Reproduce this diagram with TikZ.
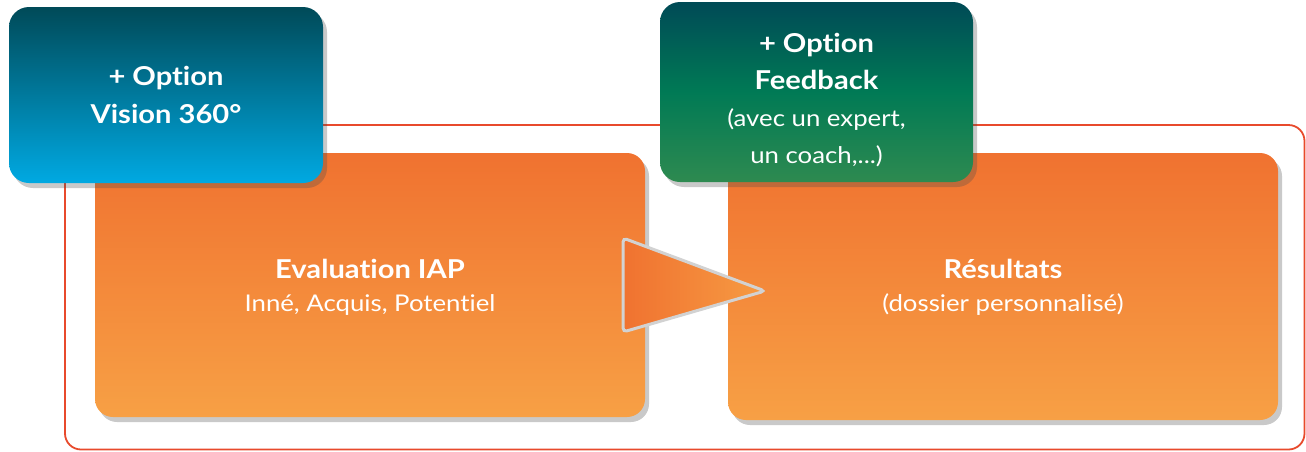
\documentclass[tikz,border=0pt]{standalone}
\usepackage{fontspec}
\setmainfont{Lato}[FakeStretch=1.12, Ligatures={NoCommon}]
\usetikzlibrary{shadows}
\definecolor{redline}{HTML}{E84A2C}
\definecolor{orTop}{HTML}{F07230}
\definecolor{orBot}{HTML}{F7A045}
\definecolor{blTop}{HTML}{004A58}
\definecolor{blBot}{HTML}{00A9E2}
\definecolor{grTop}{HTML}{004A56}
\definecolor{grMid}{HTML}{007A55}
\definecolor{grBot}{HTML}{2E8A50}
\definecolor{trBorder}{HTML}{D2D2D2}
\newcommand{\bigbold}{\bfseries\fontsize{26}{38}\selectfont}
\tikzset{
  boxshadow/.style={drop shadow={shadow xshift=4pt, shadow yshift=-5pt, opacity=0.3, fill=black!70}},
  orangebox/.style={rectangle, rounded corners=18pt, top color=orTop, bottom color=orBot, boxshadow, inner sep=0pt},
  optbox/.style={rectangle, rounded corners=20pt, boxshadow, inner sep=0pt},
  bluebox/.style={optbox, top color=blTop, bottom color=blBot},
  greenbox/.style={optbox, top color=grTop, bottom color=grBot, middle color=grMid},
  boxtext/.style={text=white, align=center, inner sep=0pt},
}
\begin{document}
\begin{tikzpicture}[x=1pt,y=-1pt]
\useasboundingbox (0,0) rectangle (1306,451);
% outer red frame
\draw[redline, line width=1.8pt, rounded corners=16pt] (65,125) rectangle (1304.5,449.5);
% orange boxes
\node[orangebox, minimum width=550pt, minimum height=264pt] (eval) at (370,285) {};
\node[boxtext, font=\fontsize{23}{33}\selectfont] (evaltext) at ([yshift=-2pt]eval.center)
  {{\bfseries\fontsize{26}{33}\selectfont Evaluation IAP}\\Inné, Acquis, Potentiel};
\node[orangebox, minimum width=550pt, minimum height=267pt] (res) at (1003,286.5) {};
\node[boxtext, font=\fontsize{23}{33}\selectfont] (restext) at ([yshift=-1pt]res.center)
  {{\bfseries\fontsize{26}{33}\selectfont Résultats}\\(dossier personnalisé)};
% arrow triangle
\path[rounded corners=4pt, left color=orTop, right color=orBot!90!orTop, draw=trBorder, line width=3pt]
  (623,238) -- (765,291) -- (623,332) -- cycle;
% option boxes
\node[bluebox, minimum width=314pt, minimum height=176pt] (vision) at (166,95) {};
\node[boxtext, font=\bigbold] (visiontext) at (vision.center) {+ Option\\Vision 360°};
\node[greenbox, minimum width=313pt, minimum height=180pt] (feedback) at (816.5,92) {};
\node[boxtext, font=\fontsize{23}{37}\selectfont] (feedbacktext) at ([yshift=-8pt]feedback.center)
  {{\bfseries\fontsize{26}{37}\selectfont + Option}\\{\bfseries\fontsize{26}{37}\selectfont Feedback}\\(avec un expert,\\un coach,...)};
\end{tikzpicture}
\end{document}
